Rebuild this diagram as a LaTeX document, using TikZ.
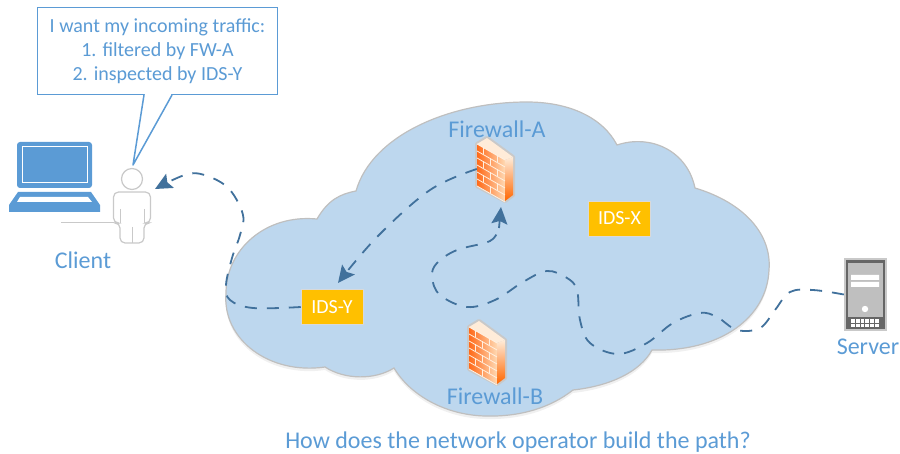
\documentclass[tikz,border=0pt]{standalone}
\usepackage{fontspec}
\setmainfont{Carlito}
\usetikzlibrary{arrows.meta}
\definecolor{labelblue}{HTML}{5B9BD5}
\definecolor{cloudblue}{HTML}{BDD7EE}
\definecolor{flowblue}{HTML}{41719C}
\definecolor{idsyellow}{HTML}{FFC000}
\definecolor{iconline}{HTML}{C9C9C9}
\newcommand{\cloudpath}{(317,219) .. controls (328,200) and (340,194) .. (356,191)
  .. controls (372,135) and (450,102) .. (527,102)
  .. controls (570,102) and (603,118) .. (617,145)
  .. controls (650,134) and (687,150) .. (695,188)
  .. controls (745,203) and (772,235) .. (769,270)
  .. controls (767,318) and (720,352) .. (652,350)
  .. controls (640,372) and (610,386) .. (573,390)
  .. controls (550,408) and (520,417) .. (485,416)
  .. controls (445,415) and (410,395) .. (394,368)
  .. controls (375,380) and (345,380) .. (325,367)
  .. controls (270,375) and (222,340) .. (226,293)
  .. controls (226,250) and (265,214) .. (317,219) -- cycle}
\tikzset{
  txt/.style={text=labelblue,font=\fontsize{24}{28}\selectfont,inner sep=0pt},
  idsbox/.style={fill=idsyellow,draw=iconline!70,line width=.5pt,text=white,minimum width=62pt,minimum height=35pt,inner sep=0pt,font=\fontsize{20}{24}\selectfont},
  flow/.style={draw=flowblue,line width=1.8pt,dash pattern=on 12pt off 10pt},
  tipped/.style={-{Stealth[length=17pt,width=16pt,inset=3pt]}},
  pics/firewall/.style={code={
    \node[inner sep=0pt,minimum width=36pt,minimum height=63pt] (-box) at (18,25) {};
    \draw[iconline,line width=4pt,line join=round,fill=iconline] (0,0) -- (10,-6) -- (36,13) -- (36,51) -- (28,57) -- (0,42) -- cycle;
    \shade[left color=orange!70!red!90,right color=orange!30!white] (0,0) -- (28,16) -- (28,57) -- (0,42) -- cycle;
    \fill[orange!15!white] (0,0) -- (10,-6) -- (36,13) -- (28,16) -- cycle;
    \shade[bottom color=orange!80!red,top color=orange!15!white] (28,16) -- (36,13) -- (36,51) -- (28,57) -- cycle;
    \begin{scope}[yslant=-0.57,draw=orange!12!white,line width=.8pt]
      \foreach \r in {0,7,14,21,28,35,42} \draw (0,\r) -- (28,\r);
      \foreach \c/\r in {6/0,20/0,13/7,6/14,20/14,13/21,6/28,20/28,13/35} \draw (\c,\r) -- (\c,\r+7);
    \end{scope}
  }}
}
\begin{document}
\begin{tikzpicture}[x=1pt,y=-1pt]
  \useasboundingbox (0,0) rectangle (900,454);
  % cloud
  \fill[black!6,shift={(0,3)}] \cloudpath;
  \filldraw[fill=cloudblue,draw=black!25,line width=1.2pt] \cloudpath;

  % laptop
  \node[inner sep=0pt,minimum width=91pt,minimum height=70pt] (laptop) at (54.5,177) {};
  \fill[labelblue,rounded corners=3pt] (17,142) rectangle (92,188);
  \draw[white,line width=1pt] (22,147) rectangle (87,183);
  \fill[labelblue] (18,192) -- (91,192) -- (100,205) -- (100,212) -- (9,212) -- (9,205) -- cycle;
  \fill[white] (20,197) -- (88,197) -- (92,202) -- (17,202) -- cycle;

  % client
  \draw[iconline,line width=1pt] (61,223) -- (114,223);
  \node[inner sep=0pt,minimum width=38pt,minimum height=75pt] (client) at (132,205) {};
  \draw[iconline,line width=1.2pt,fill=white] (132,179) circle (10.5);
  \draw[iconline,line width=1.2pt,fill=white,rounded corners=5pt] (113.500,223) -- (113.500,192) -- (150.500,192) -- (150.500,223) -- (144,223) -- (144,243) -- (120,243) -- (120,223) -- cycle;
  \draw[iconline,line width=1pt] (120,209) -- (120,223) (144,209) -- (144,223) (132,227) -- (132,243);

  % server
  \node[fill=iconline,inner sep=0pt,minimum width=43pt,minimum height=73pt] (server) at (865.500,294.500) {};
  \fill[black!60] (846,260) rectangle (885,329);
  \fill[black!25] (848,263) rectangle (883,317);
  \fill[white] (851,275) rectangle (879,280) (851,282) rectangle (879,287);
  \fill[white] (865,309) circle (3.2);
  \foreach \i in {0,...,5} \foreach \j in {0,1} \fill[white] (851+\i*4.8,319+\j*4.7) rectangle (854.800+\i*4.8,322.800+\j*4.7);

  % boxes
  \node[idsbox] (idsy) at (332,307) {IDS-Y};
  \node[idsbox] (idsx) at (619.500,218.500) {IDS-X};
  \pic (fwa) at (477,144) {firewall};
  \pic (fwb) at (469,327) {firewall};

  % labels
  \node[txt] (fwalabel) at (497,129) {Firewall-A};
  \node[txt] (fwblabel) at (495,396) {Firewall-B};
  \node[txt] (clientlabel) at (83,260) {Client};
  \node[txt] (serverlabel) at (868,347) {Server};
  \node[txt] (question) at (518,442) {How does the network operator build the path?};

  % speech bubble
  \node[draw=labelblue,fill=white,line width=1.5pt,minimum width=240pt,minimum height=87pt,inner sep=0pt,align=center,text=labelblue,font=\fontsize{20}{24}\selectfont] (ask) at (157.500,51) {I want my incoming traffic:\\1. filtered by FW-A\\2. inspected by IDS-Y};
  \coordinate (asktip) at (133,165);
  \fill[white] (145,94) rectangle (171,96.500);
  \draw[labelblue,line width=1.5pt,line join=round,fill=white] (144,95) -- (asktip) -- (172,95);

  % traffic
  \coordinate (clienttip) at (155,189);
  \coordinate (fwatip) at (501,207);
  \coordinate (idsytip) at (338,283);
  \draw[flow] plot[smooth,tension=.6] coordinates {(server.west) (813,290) (790,292) (775,310) (760,328) (737,330) (717,317) (700,313) (673,323) (647,343) (618,354) (590,343) (580,320) (577,290) (567,278) (547,271) (523,282) (495,300) (467,307) (440,295) (432,277) (437,263) (457,250) (490,241) (499,228)};
  \draw[flow,tipped] plot[smooth,tension=.6] coordinates {(499,228) (fwatip)};
  \draw[flow,tipped] plot[smooth,tension=.6] coordinates {(fwa-box.west) (430,190) (377,237) (idsytip)};
  \draw[flow,tipped] plot[smooth,tension=.6] coordinates {(idsy.west) (253,308) (230,300) (226,285) (232,258) (240,235) (243,215) (230,190) (210,177) (188,174) (clienttip)};
\end{tikzpicture}
\end{document}
